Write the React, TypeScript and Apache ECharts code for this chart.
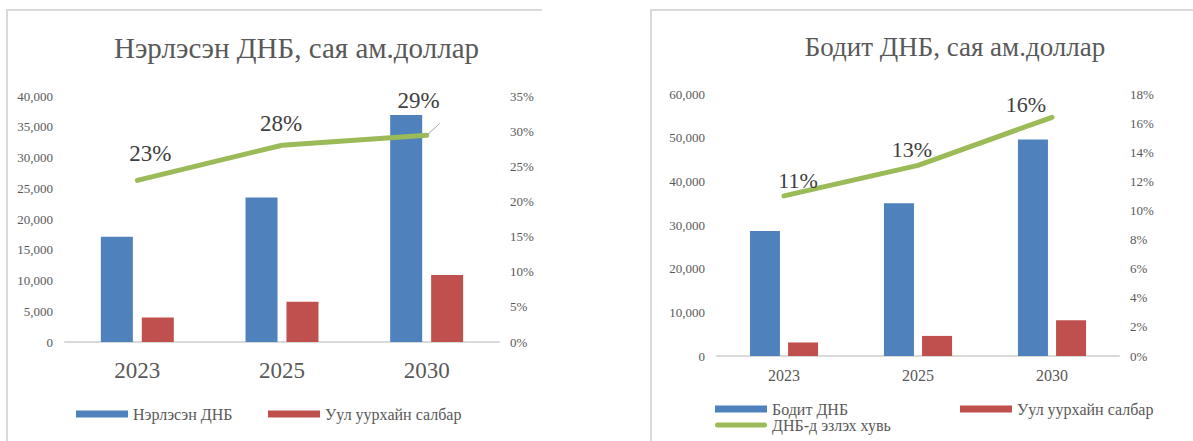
import React, { useEffect, useRef } from 'react';
import * as echarts from 'echarts';

const categories = ['2023', '2025', '2030'];
const nominalGdp = [17100, 23500, 36900];
const nominalMining = [4000, 6550, 10900];
const nominalShare = [0.23, 0.28, 0.294];
const realGdp = [28600, 35000, 49600];
const realMining = [3100, 4600, 8200];
const realShare = [0.11, 0.131, 0.164];

const titleNominal = 'Нэрлэсэн ДНБ, сая ам.доллар';
const titleReal = 'Бодит ДНБ, сая ам.доллар';
const nameNominal = 'Нэрлэсэн ДНБ';
const nameReal = 'Бодит ДНБ';
const nameMining = 'Уул уурхайн салбар';
const nameShare = 'ДНБ-д эзлэх хувь';

// label placement (styling, not data)
const nominalLabelOffsets = [[13, -27], [-1, -22], [-8, -35]];
const realLabelOffsets = [[14, -15], [-6, -16], [-26, -13]];

const FONT = "'Liberation Serif', 'Times New Roman', serif";
const BLUE = '#4F81BD';
const RED = '#C0504D';
const GREEN = '#9BBB59';
const AXIS_TEXT = '#595959';
const LABEL_TEXT = '#404040';

const numFmt = (v: number) => v.toLocaleString('en-US');
const pctFmt = (v: number) => Math.round(v * 100) + '%';

function shareData(vals: number[], offsets: number[][], leaderIdx: number) {
  return vals.map((v, i) => ({
    value: v,
    label: { offset: offsets[i] },
    labelLine: { show: i === leaderIdx, lineStyle: { color: '#A6A6A6', width: 1 } },
  }));
}

function legend(name: string, left: number, top: number, icon?: string) {
  return {
    left,
    top,
    orient: 'horizontal',
    itemWidth: 52,
    itemHeight: 7,
    padding: 0,
    selectedMode: false,
    data: [icon ? { name, icon } : { name, icon: 'rect' }],
    textStyle: { fontFamily: FONT, fontSize: 16, color: AXIS_TEXT, lineHeight: 16 },
  };
}

export default function App() {
  const ref = useRef<HTMLDivElement>(null);
  useEffect(() => {
    const chart = echarts.init(ref.current!, null, { renderer: 'svg' });
    const valueAxisCommon = {
      type: 'value',
      splitLine: { show: false },
      axisLine: { show: false },
      axisTick: { show: false },
    };
    const option: any = {
      animation: false,
      backgroundColor: '#ffffff',
      textStyle: { fontFamily: FONT },
      grid: [
        { left: 65, top: 96, width: 434, height: 246 },
        { left: 717, top: 94, width: 402, height: 262 },
      ],
      xAxis: [
        {
          type: 'category',
          gridIndex: 0,
          data: categories,
          axisTick: { show: false },
          axisLine: { lineStyle: { color: '#D9D9D9', width: 2 } },
          axisLabel: { fontFamily: FONT, fontSize: 23, color: AXIS_TEXT, margin: 17 },
        },
        {
          type: 'category',
          gridIndex: 1,
          data: categories,
          axisTick: { show: false },
          axisLine: { lineStyle: { color: '#D9D9D9', width: 2 } },
          axisLabel: { fontFamily: FONT, fontSize: 16, color: AXIS_TEXT, margin: 11 },
        },
      ],
      yAxis: [
        {
          ...valueAxisCommon,
          gridIndex: 0,
          min: 0,
          max: 40000,
          interval: 5000,
          axisLabel: { fontFamily: FONT, fontSize: 13, color: AXIS_TEXT, margin: 12, formatter: numFmt },
        },
        {
          ...valueAxisCommon,
          gridIndex: 0,
          position: 'right',
          min: 0,
          max: 0.35,
          interval: 0.05,
          axisLabel: { fontFamily: FONT, fontSize: 13, color: AXIS_TEXT, margin: 11, formatter: pctFmt },
        },
        {
          ...valueAxisCommon,
          gridIndex: 1,
          min: 0,
          max: 60000,
          interval: 10000,
          axisLabel: { fontFamily: FONT, fontSize: 13, color: AXIS_TEXT, margin: 12, formatter: numFmt },
        },
        {
          ...valueAxisCommon,
          gridIndex: 1,
          position: 'right',
          min: 0,
          max: 0.18,
          interval: 0.02,
          axisLabel: { fontFamily: FONT, fontSize: 13, color: AXIS_TEXT, margin: 11, formatter: pctFmt },
        },
      ],
      legend: [
        legend(nameNominal, 76, 406),
        legend(nameMining, 268, 406),
        legend(nameReal, 715, 401),
        legend(nameMining, 960, 401),
        legend(nameShare, 715, 417, 'path://M2.5,0 L49.5,0 A2.5,2.5 0 0 1 49.5,5 L2.5,5 A2.5,2.5 0 0 1 2.5,0 Z'),
      ],
      graphic: [
        {
          type: 'polyline',
          shape: { points: [[7, 441], [7, 10], [542, 10]] },
          style: { stroke: '#D9D9D9', lineWidth: 2, fill: 'none' },
          silent: true,
        },
        {
          type: 'polyline',
          shape: { points: [[651, 441], [651, 10], [1193, 10]] },
          style: { stroke: '#D9D9D9', lineWidth: 2, fill: 'none' },
          silent: true,
        },
        {
          type: 'text',
          x: 296.5,
          y: 48,
          style: {
            text: titleNominal,
            fontFamily: FONT,
            fontSize: 29,
            fill: AXIS_TEXT,
            textAlign: 'center',
            textVerticalAlign: 'middle',
          },
        },
        {
          type: 'text',
          x: 955,
          y: 47,
          style: {
            text: titleReal,
            fontFamily: FONT,
            fontSize: 27,
            fill: AXIS_TEXT,
            textAlign: 'center',
            textVerticalAlign: 'middle',
          },
        },
      ],
      series: [
        {
          name: nameNominal,
          type: 'bar',
          xAxisIndex: 0,
          yAxisIndex: 0,
          data: nominalGdp,
          barWidth: 32,
          barGap: '28%',
          itemStyle: { color: BLUE },
        },
        {
          name: nameMining,
          type: 'bar',
          xAxisIndex: 0,
          yAxisIndex: 0,
          data: nominalMining,
          barWidth: 32,
          barGap: '28%',
          itemStyle: { color: RED },
        },
        {
          name: nameShare,
          type: 'line',
          xAxisIndex: 0,
          yAxisIndex: 1,
          data: shareData(nominalShare, nominalLabelOffsets, 2),
          symbol: 'circle',
          symbolSize: 1,
          itemStyle: { color: GREEN },
          lineStyle: { color: GREEN, width: 5, cap: 'round', join: 'round' },
          z: 3,
          label: {
            show: true,
            position: 'inside',
            fontFamily: FONT,
            fontSize: 23,
            color: LABEL_TEXT,
            formatter: (p: any) => pctFmt(p.value),
          },
        },
        {
          name: nameReal,
          type: 'bar',
          xAxisIndex: 1,
          yAxisIndex: 2,
          data: realGdp,
          barWidth: 30,
          barGap: '27%',
          itemStyle: { color: BLUE },
        },
        {
          name: nameMining,
          type: 'bar',
          xAxisIndex: 1,
          yAxisIndex: 2,
          data: realMining,
          barWidth: 30,
          barGap: '27%',
          itemStyle: { color: RED },
        },
        {
          name: nameShare,
          type: 'line',
          xAxisIndex: 1,
          yAxisIndex: 3,
          data: shareData(realShare, realLabelOffsets, -1),
          symbol: 'circle',
          symbolSize: 1,
          itemStyle: { color: GREEN },
          lineStyle: { color: GREEN, width: 5, cap: 'round', join: 'round' },
          z: 3,
          label: {
            show: true,
            position: 'inside',
            fontFamily: FONT,
            fontSize: 22,
            color: LABEL_TEXT,
            formatter: (p: any) => pctFmt(p.value),
          },
        },
      ],
    };
    chart.setOption(option);
    return () => chart.dispose();
  }, []);
  return (
    <div
      ref={ref}
      style={{ position: 'fixed', left: 0, top: 0, width: 1193, height: 441, background: '#ffffff' }}
    />
  );
}
